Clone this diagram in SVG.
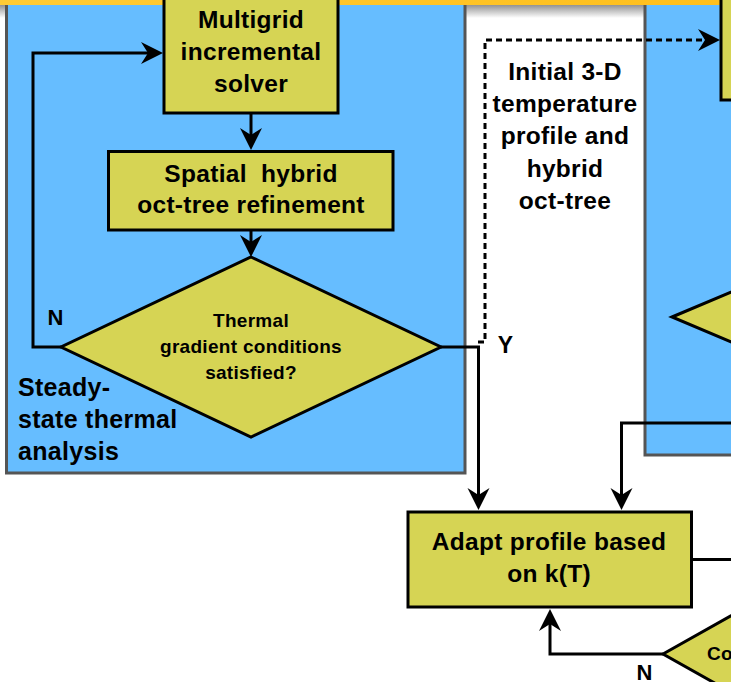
<svg xmlns="http://www.w3.org/2000/svg" width="731" height="682" viewBox="0 0 731 682">
  <defs>
    <linearGradient id="topShade" x1="0" y1="0" x2="0" y2="1">
      <stop offset="0" stop-color="#8a8a8a"/>
      <stop offset="1" stop-color="#ffffff"/>
    </linearGradient>
    <linearGradient id="bar" x1="0" y1="0" x2="1" y2="0">
      <stop offset="0" stop-color="#ffcb35"/>
      <stop offset="1" stop-color="#ffbf1c"/>
    </linearGradient>
    <marker id="arrow" markerUnits="userSpaceOnUse" viewBox="-24 -13 26 26" refX="-12" refY="0" markerWidth="26" markerHeight="26" orient="auto">
      <path d="M0,0 L-22,-11 L-15,0 L-22,11 Z" fill="#000"/>
    </marker>
    <style>
      .panel { fill: #66bdff; stroke: #555555; stroke-width: 3; }
      .box { fill: #d6d454; stroke: #000; stroke-width: 3; }
      .t { font-family: "Liberation Sans", Arial, sans-serif; font-weight: bold; fill: #000; text-anchor: middle; }
      .big { font-size: 24.5px; letter-spacing: 0.3px; }
      .small { font-size: 19px; letter-spacing: 0.3px; }
      .lbl { font-size: 22px; }
      .wire { fill: none; stroke: #000; stroke-width: 3; }
      .dash { stroke-dasharray: 6 4; }
    </style>
  </defs>

  <rect x="0" y="0" width="731" height="682" fill="#ffffff"/>
  <!-- shading under the top banner -->
  <rect x="0" y="4" width="731" height="14" fill="url(#topShade)"/>

  <!-- swimlane panels -->
  <g id="panel-steady">
    <rect class="panel" x="6.5" y="-10" width="458.5" height="483"/>
    <text class="t" x="18" y="396" font-size="25" letter-spacing="0.3" text-anchor="start" style="text-anchor:start">Steady-</text>
    <text class="t" x="18" y="428" font-size="25" letter-spacing="0.3" style="text-anchor:start">state thermal</text>
    <text class="t" x="18" y="460" font-size="25" letter-spacing="0.3" style="text-anchor:start">analysis</text>
  </g>
  <g id="panel-right">
    <rect class="panel" x="645" y="-10" width="120" height="465"/>
  </g>

  <!-- top banner -->
  <rect x="0" y="0" width="731" height="5" fill="url(#bar)"/>

  <g id="multigrid">
    <rect class="box" x="164" y="-10" width="174" height="123"/>
    <text class="t big" x="251" y="28">Multigrid</text>
    <text class="t big" x="251" y="60">incremental</text>
    <text class="t big" x="251" y="92">solver</text>
  </g>

  <g id="refinement">
    <rect class="box" x="108.5" y="151.5" width="284.5" height="78.5"/>
    <text class="t big" x="251" y="182" xml:space="preserve">Spatial  hybrid</text>
    <text class="t big" x="251" y="213">oct-tree refinement</text>
  </g>

  <g id="gradient-check">
    <polygon class="box" points="251,257 441,347 251,437 61,347"/>
    <text class="t small" x="251" y="327">Thermal</text>
    <text class="t small" x="251" y="353">gradient conditions</text>
    <text class="t small" x="251" y="379">satisfied?</text>
  </g>

  <g id="right-box">
    <rect class="box" x="721" y="-10" width="40" height="110"/>
  </g>

  <g id="right-decision">
    <polygon class="box" points="672,317 862,237 1052,317 862,397"/>
  </g>

  <g id="adapt">
    <rect class="box" x="408" y="512" width="283.5" height="95"/>
    <text class="t big" x="549" y="550">Adapt profile based</text>
    <text class="t big" x="549" y="582">on k(T)</text>
  </g>

  <g id="convergence">
    <polygon class="box" points="663,654 823,564 983,654 823,744"/>
    <text class="t small" x="707" y="660" style="text-anchor:start">Co</text>
  </g>

  <g id="initial-label">
    <text class="t big" x="565" y="80">Initial 3-D</text>
    <text class="t big" x="565" y="112">temperature</text>
    <text class="t big" x="565" y="144">profile and</text>
    <text class="t big" x="565" y="177">hybrid</text>
    <text class="t big" x="565" y="209">oct-tree</text>
  </g>

  <g id="connectors">
    <path class="wire" d="M61,347 H33 V53 H151" marker-end="url(#arrow)"/>
    <path class="wire" d="M251,113 V138" marker-end="url(#arrow)"/>
    <path class="wire" d="M251,230 V245" marker-end="url(#arrow)"/>
    <path class="wire" d="M441,347 H478.5 V498" marker-end="url(#arrow)"/>
    <path class="wire dash" d="M478,342 H485 V40 H708" marker-end="url(#arrow)"/>
    <path class="wire" d="M735,423 H621.5 V498" marker-end="url(#arrow)"/>
    <path class="wire" d="M691,559.5 H735"/>
    <path class="wire" d="M663,654 H550 V621" marker-end="url(#arrow)"/>
    <text class="t lbl" x="55.5" y="325">N</text>
    <text class="t" x="505.5" y="353" font-size="23">Y</text>
    <text class="t lbl" x="644.5" y="680">N</text>
  </g>
</svg>
